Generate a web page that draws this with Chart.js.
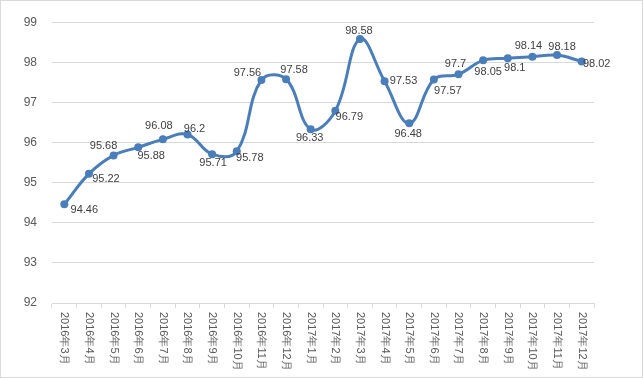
<!DOCTYPE html>
<html>
<head>
<meta charset="utf-8">
<script src="https://cdn.jsdelivr.net/npm/chart.js@4/dist/chart.umd.min.js"></script>
<style>
  html, body { margin: 0; padding: 0; background: #fff; }
</style>
</head>
<body>
<canvas id="chart" width="643" height="378"></canvas>
<script>
const months = ['2016年3月', '2016年4月', '2016年5月', '2016年6月', '2016年7月', '2016年8月',
  '2016年9月', '2016年10月', '2016年11月', '2016年12月', '2017年1月', '2017年2月',
  '2017年3月', '2017年4月', '2017年5月', '2017年6月', '2017年7月', '2017年8月',
  '2017年9月', '2017年10月', '2017年11月', '2017年12月'];
const rates = [94.46, 95.22, 95.68, 95.88, 96.08, 96.2, 95.71, 95.78, 97.56, 97.58, 96.33,
  96.79, 98.58, 97.53, 96.48, 97.57, 97.7, 98.05, 98.1, 98.14, 98.18, 98.02];
const yMin = 92;
const yMax = 99;

// where each value label sits relative to its point (dx, dy in px)
const labelOffsets = [[20, 6], [17, 5], [-10, -9], [13, 9], [-4, -13], [7, -6], [1, 9], [13, 7],
  [-14, -7], [8, -9], [-1, 9], [14, 6], [-1, -8], [19, 0], [-1, 11], [14, 11], [-3, -10],
  [5, 12], [7, 10], [-4, -11], [5, -8], [15, 2]];

const lineColor = '#4a7ebb';
const gridColor = '#d9d9d9';

const decor = {
  id: 'decor',
  beforeDraw(chart) {
    const ctx = chart.ctx;
    ctx.save();
    ctx.fillStyle = '#fff';
    ctx.fillRect(0, 0, chart.width, chart.height);
    ctx.strokeStyle = gridColor;
    ctx.lineWidth = 1;
    ctx.strokeRect(0.5, 0.5, chart.width - 1, chart.height - 1);
    ctx.restore();
  },
  afterDatasetsDraw(chart) {
    const ctx = chart.ctx;
    const meta = chart.getDatasetMeta(0);
    ctx.save();
    ctx.font = '11px "Liberation Sans"';
    ctx.fillStyle = '#404040';
    ctx.textAlign = 'center';
    ctx.textBaseline = 'middle';
    meta.data.forEach((pt, i) => {
      const off = labelOffsets[i];
      ctx.fillText(String(rates[i]), pt.x + off[0], pt.y + off[1]);
    });

    // category labels, rotated to read top-to-bottom
    const xs = chart.scales.x;
    ctx.fillStyle = '#595959';
    ctx.textAlign = 'left';
    months.forEach((m, i) => {
      ctx.save();
      ctx.translate(xs.getPixelForValue(i), xs.top + 9);
      ctx.rotate(Math.PI / 2);
      ctx.fillText(m, 0, 0);
      ctx.restore();
    });
    ctx.restore();
  }
};

new Chart(document.getElementById('chart'), {
  type: 'line',
  data: {
    labels: months,
    datasets: [{
      data: rates,
      borderColor: lineColor,
      backgroundColor: lineColor,
      borderWidth: 3,
      pointRadius: 4,
      pointBorderWidth: 0,
      pointBackgroundColor: lineColor,
      tension: 0.4,
      fill: false
    }]
  },
  options: {
    responsive: false,
    animation: false,
    devicePixelRatio: 1,
    layout: {padding: {top: 19, right: 49, left: 0, bottom: 0}},
    plugins: {legend: {display: false}, tooltip: {enabled: false}},
    scales: {
      x: {
        offset: true,
        grid: {offset: true, drawOnChartArea: false, color: gridColor, tickLength: 5},
        border: {color: gridColor},
        ticks: {display: false},
        afterFit: s => { s.height = 75; }
      },
      y: {
        min: yMin,
        max: yMax,
        ticks: {stepSize: 1, color: '#595959', font: {family: 'Liberation Sans', size: 12}, padding: 15},
        grid: {color: gridColor, drawTicks: false},
        border: {display: false},
        afterFit: s => { s.width = 52; }
      }
    }
  },
  plugins: [decor]
});
</script>
</body>
</html>
